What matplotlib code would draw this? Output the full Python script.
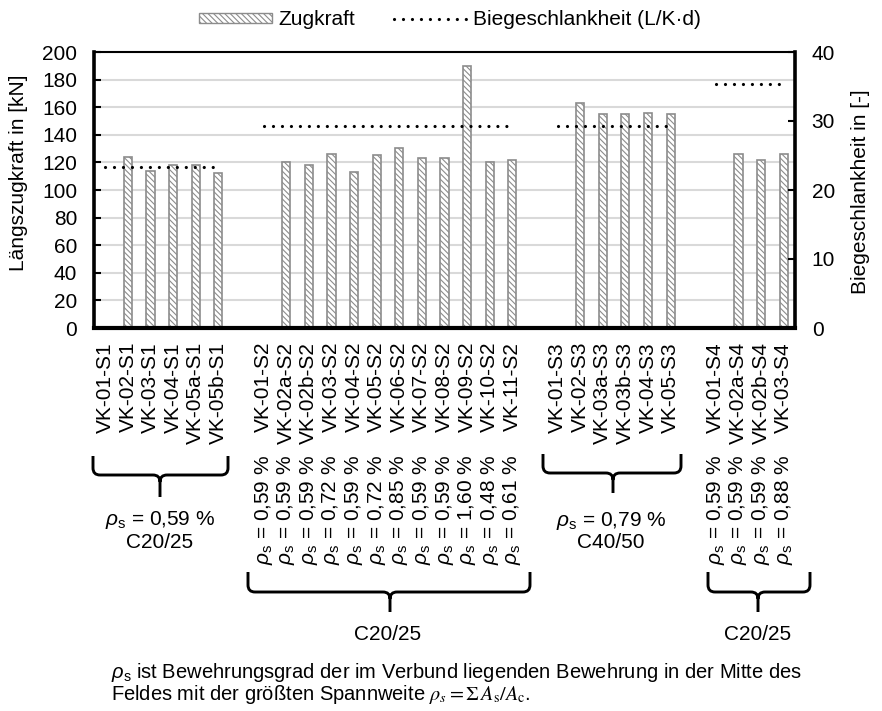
import numpy as np
import matplotlib.pyplot as plt
from matplotlib.path import Path
from matplotlib.patches import PathPatch, Patch
from matplotlib.lines import Line2D
from matplotlib.transforms import blended_transform_factory

plt.rcParams['font.family'] = ['Liberation Sans', 'DejaVu Sans']
plt.rcParams['font.size'] = 15
plt.rcParams['mathtext.fontset'] = 'custom'
plt.rcParams['mathtext.rm'] = 'Liberation Sans'
plt.rcParams['mathtext.it'] = 'Liberation Sans:italic'
plt.rcParams['hatch.linewidth'] = 0.8

#-------------------------------------------------------------------
# data
labels_s1 = ['VK-01-S1', 'VK-02-S1', 'VK-03-S1', 'VK-04-S1', 'VK-05a-S1', 'VK-05b-S1']
zug_s1 = [np.nan, 124, 114, 118, 118, 112]
schlank_s1 = [23.4, 23.4, 23.4, 23.4, 23.4, 23.4]

labels_s2 = ['VK-01-S2', 'VK-02a-S2', 'VK-02b-S2', 'VK-03-S2', 'VK-04-S2', 'VK-05-S2',
             'VK-06-S2', 'VK-07-S2', 'VK-08-S2', 'VK-09-S2', 'VK-10-S2', 'VK-11-S2']
zug_s2 = [np.nan, 120, 118, 126, 113, 125, 130.5, 123, 123, 190, 120, 122]
schlank_s2 = [29.3, 29.3, 29.3, 29.3, 29.3, 29.3, 29.3, 29.3, 29.3, 29.3, 29.3, 29.3]
rho_s2 = ['0,59', '0,59', '0,59', '0,72', '0,59', '0,72', '0,85', '0,59', '0,59', '1,60', '0,48', '0,61']

labels_s3 = ['VK-01-S3', 'VK-02-S3', 'VK-03a-S3', 'VK-03b-S3', 'VK-04-S3', 'VK-05-S3']
zug_s3 = [np.nan, 163, 155, 155, 156, 155]
schlank_s3 = [29.3, 29.3, 29.3, 29.3, 29.3, 29.3]

labels_s4 = ['VK-01-S4', 'VK-02a-S4', 'VK-02b-S4', 'VK-03-S4']
zug_s4 = [np.nan, 126, 122, 126]
schlank_s4 = [35.3, 35.3, 35.3, 35.3]
rho_s4 = ['0,59', '0,59', '0,59', '0,88']

#-------------------------------------------------------------------
groups = [(labels_s1, zug_s1, schlank_s1), (labels_s2, zug_s2, schlank_s2),
          (labels_s3, zug_s3, schlank_s3), (labels_s4, zug_s4, schlank_s4)]
x_labels, zug, schlank, start = [], [], [], []
for i, (lab, z, s) in enumerate(groups):
    if i > 0:
        x_labels.append('')
        zug.append(np.nan)
        schlank.append(np.nan)
    start.append(len(x_labels))
    x_labels += lab
    zug += z
    schlank += s
x = np.arange(len(x_labels))

W, H = 882, 711
fig = plt.figure(figsize=(W / 100, H / 100), dpi=100)


def px(xp, yp):
    return (xp / W, 1 - yp / H)


ax = fig.add_axes([94 / W, 1 - 328 / H, 701 / W, 276 / H])
ax2 = ax.twinx()

hatch = '\\' * 6
dots = (0, (0.01, 2.8))
ax.bar(x, zug, width=0.36, color='white', edgecolor='#8c8c8c', hatch=hatch, linewidth=1.2)
ax2.plot(x, schlank, color='black', lw=2.3, linestyle=dots, dash_capstyle='round')

ax.set_xlim(-0.5, len(x) - 0.5)
ax.set_ylim(0, 200)
ax.set_yticks(np.arange(0, 201, 20))
ax2.set_ylim(0, 40)
ax2.set_yticks(np.arange(0, 41, 10))
ax.set_xticks(x)
ax.set_xticklabels(x_labels, rotation=90, va='top', ha='center')
ax.yaxis.grid(True, color='#d9d9d9', lw=1.5)
ax.set_axisbelow(True)

ax.tick_params(axis='y', direction='in', length=5, width=1.5, pad=12)
ax.tick_params(axis='x', length=0, pad=10)
ax2.tick_params(axis='y', direction='in', length=5, width=1.5, pad=12)

ax.spines['left'].set_linewidth(2.6)
ax.spines['bottom'].set_linewidth(3)
ax.spines['top'].set_linewidth(1.5)
ax.spines['right'].set_visible(False)
for s in ['left', 'top', 'bottom']:
    ax2.spines[s].set_visible(False)
ax2.spines['right'].set_linewidth(2.6)

fig.text(*px(19, 173), 'Längszugkraft in [kN]', rotation=90, ha='center', va='center')
fig.text(*px(861, 192), 'Biegeschlankheit in [-]', rotation=90, ha='center', va='center')

# legend
handles = [Patch(facecolor='white', edgecolor='#8c8c8c', hatch=hatch, label='Zugkraft'),
           Line2D([], [], color='black', lw=2.3, linestyle=dots,
                  dash_capstyle='round', label='Biegeschlankheit (L/K·d)')]
fig.legend(handles=handles, loc='upper center', bbox_to_anchor=px(450, 0), ncol=2,
           frameon=False, handlelength=3.5, handleheight=0.4, columnspacing=1.9,
           handletextpad=0.3, borderaxespad=0.1)

# rotated rho labels below groups 2 and 4
trans = blended_transform_factory(ax.transData, fig.transFigure)
for st, rhos in [(start[1], rho_s2), (start[3], rho_s4)]:
    for k, r in enumerate(rhos):
        ax.text(st + k, px(0, 455)[1], r'$\rho_\mathrm{s}$ = ' + r + ' %', rotation=90,
                ha='center', va='top', transform=trans, clip_on=False)


# braces
def brace(L, R, T, Hh, P, C, r=7):
    pts = [(L, T), (L, Hh - r), (L, Hh), (L + r, Hh), (C - r, Hh), (C, Hh), (C, Hh + r), (C, P)]
    codes = [Path.MOVETO, Path.LINETO, Path.CURVE3, Path.CURVE3, Path.LINETO,
             Path.CURVE3, Path.CURVE3, Path.LINETO]
    pts2 = [(R, T), (R, Hh - r), (R, Hh), (R - r, Hh), (C + r, Hh), (C, Hh), (C, Hh + r)]
    codes2 = [Path.MOVETO, Path.LINETO, Path.CURVE3, Path.CURVE3, Path.LINETO,
              Path.CURVE3, Path.CURVE3]
    verts = [px(*p) for p in pts + pts2]
    fig.add_artist(PathPatch(Path(verts, codes + codes2), fill=False, lw=2.1,
                             edgecolor='black', transform=fig.transFigure))


brace(93, 228, 456, 475, 497, 160)
brace(248, 530, 572, 592, 612, 390)
brace(543, 681, 454, 473, 493, 613)
brace(708, 810, 572, 592, 612, 758)

fig.text(*px(160, 520), r'$\rho_\mathrm{s}$ = 0,59 %', ha='center', va='center')
fig.text(*px(160, 543), 'C20/25', ha='center', va='center')
fig.text(*px(611, 521), r'$\rho_\mathrm{s}$ = 0,79 %', ha='center', va='center')
fig.text(*px(611, 543), 'C40/50', ha='center', va='center')
fig.text(*px(388, 635), 'C20/25', ha='center', va='center')
fig.text(*px(758, 635), 'C20/25', ha='center', va='center')

fig.text(*px(111, 673), r'$\rho_\mathrm{s}$ ist Bewehrungsgrad der im Verbund liegenden Bewehrung in der Mitte des',
         ha='left', va='center', fontsize=14.5)
fig.text(*px(111, 694), r'Feldes mit der größten Spannweite $\rho_s = \Sigma\,A_\mathrm{s}/A_\mathrm{c}$.',
         ha='left', va='center', fontsize=14.5, math_fontfamily='stix')

fig.savefig('out.png', dpi=100)
